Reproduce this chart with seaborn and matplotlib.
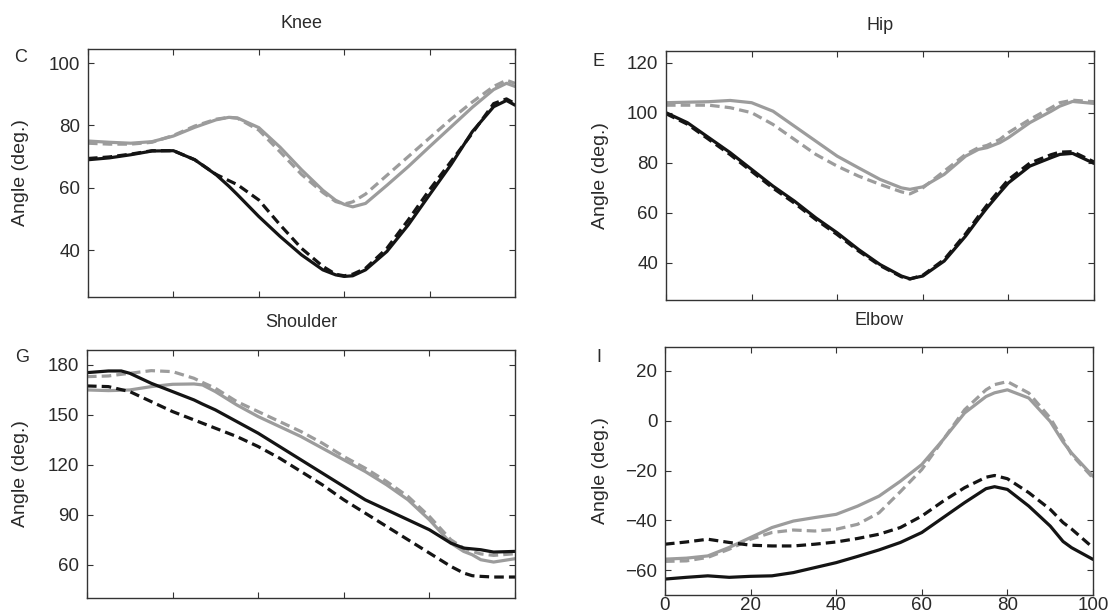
import matplotlib
matplotlib.use("Agg")
import matplotlib.pyplot as plt
import pandas as pd
import seaborn as sns

# Percent of the cycle at which each joint's curves are sampled
knee_pct = [0, 5, 10, 15, 20, 25, 30, 33, 35, 40, 45, 50, 55, 58, 60, 62, 65, 70, 75, 80, 85, 90, 95, 98, 100]
hip_pct = [0, 5, 10, 15, 20, 25, 30, 35, 40, 45, 50, 55, 57, 60, 65, 70, 73, 75, 78, 80, 85, 90, 92, 95, 100]
shoulder_pct = [0, 5, 8, 10, 15, 20, 25, 27, 30, 35, 40, 45, 50, 55, 60, 65, 70, 75, 80, 85, 88, 90, 92, 95, 100]
elbow_pct = [0, 5, 10, 15, 20, 25, 30, 35, 40, 45, 50, 55, 60, 65, 70, 75, 77, 80, 85, 90, 93, 95, 100]

# Knee angle (deg.)
knee_light_solid = [75.0, 74.6, 74.3, 74.8, 76.6, 79.4, 81.8, 82.6, 82.4, 79.3, 73.0, 65.8, 59.2, 56.0, 54.7, 53.9, 55.0, 60.8, 66.8, 73.2, 79.5, 85.8, 91.5, 93.5, 92.5]
knee_light_dashed = [74.3, 74.0, 74.0, 74.6, 76.8, 79.8, 82.0, 82.6, 82.3, 78.5, 71.5, 64.3, 58.5, 55.6, 54.8, 55.5, 58.0, 64.0, 70.0, 76.0, 82.0, 87.5, 92.5, 94.5, 93.5]
knee_dark_solid = [69.0, 69.6, 70.6, 71.8, 71.9, 69.0, 64.2, 60.5, 57.8, 50.8, 44.4, 38.5, 33.7, 32.1, 31.6, 31.8, 33.7, 39.6, 48.1, 57.8, 67.4, 78.0, 86.0, 88.0, 86.5]
knee_dark_dashed = [69.4, 69.9, 70.8, 71.9, 71.9, 69.0, 64.3, 62.3, 61.0, 56.1, 48.1, 40.6, 34.8, 32.3, 31.8, 32.3, 34.2, 40.6, 49.7, 59.4, 68.4, 77.5, 87.0, 88.5, 87.0]

# Hip angle (deg.)
hip_light_solid = [104.0, 104.2, 104.4, 104.9, 104.0, 100.6, 94.6, 88.6, 82.6, 77.9, 73.3, 69.9, 69.3, 70.3, 75.3, 82.6, 85.3, 86.0, 88.0, 90.0, 96.0, 100.6, 102.6, 104.5, 103.7]
hip_light_dashed = [103.0, 103.0, 103.0, 102.0, 100.0, 95.3, 89.3, 83.3, 78.6, 74.6, 71.3, 68.3, 67.5, 69.9, 76.6, 83.3, 86.0, 86.9, 89.3, 92.0, 97.3, 102.0, 104.0, 105.0, 104.4]
hip_dark_solid = [100.0, 96.0, 90.0, 84.0, 77.3, 70.6, 64.6, 57.9, 51.9, 45.2, 39.2, 34.6, 33.5, 34.6, 40.6, 50.6, 57.5, 61.9, 68.0, 71.9, 78.6, 82.0, 83.3, 83.7, 79.7]
hip_dark_dashed = [99.6, 95.4, 89.3, 83.2, 76.5, 69.8, 63.8, 57.2, 51.2, 44.6, 38.8, 34.3, 33.4, 34.9, 41.2, 51.5, 58.5, 63.0, 69.2, 73.2, 79.8, 83.2, 84.2, 84.4, 80.3]

# Shoulder angle (deg.)
shoulder_light_solid = [165.0, 164.6, 164.8, 165.0, 167.0, 168.4, 168.6, 168.0, 164.0, 156.0, 149.0, 143.0, 137.0, 130.0, 123.0, 116.0, 108.0, 99.0, 87.0, 73.0, 68.0, 66.0, 63.0, 61.6, 63.6]
shoulder_light_dashed = [173.0, 173.4, 174.4, 175.0, 176.6, 176.0, 172.0, 169.5, 166.0, 158.0, 152.0, 146.0, 140.0, 133.0, 125.0, 118.0, 110.0, 101.0, 89.0, 75.0, 70.0, 68.0, 66.5, 65.6, 66.6]
shoulder_dark_solid = [175.4, 176.4, 176.4, 175.0, 169.0, 164.0, 159.0, 156.5, 153.0, 146.0, 139.0, 131.0, 123.0, 115.0, 107.0, 99.0, 93.0, 87.0, 81.0, 73.0, 70.0, 69.5, 69.0, 67.6, 68.0]
shoulder_dark_dashed = [167.4, 167.0, 165.2, 164.0, 158.0, 152.0, 147.0, 145.0, 142.0, 137.0, 131.0, 124.0, 116.0, 108.0, 99.0, 91.0, 83.0, 75.0, 67.0, 59.0, 55.0, 53.4, 53.0, 52.6, 52.6]

# Elbow angle (deg.)
elbow_light_solid = [-55.6, -55.2, -54.3, -50.9, -46.9, -42.9, -40.3, -38.9, -37.6, -34.3, -30.3, -24.3, -17.6, -7.6, 3.1, 9.7, 11.2, 12.4, 9.1, -0.3, -8.5, -13.0, -22.3]
elbow_light_dashed = [-56.5, -56.3, -54.9, -51.6, -47.6, -44.9, -43.9, -44.3, -43.6, -41.6, -37.0, -28.5, -19.6, -7.6, 4.4, 12.4, 14.5, 15.7, 11.1, 1.1, -7.5, -13.6, -23.0]
elbow_dark_solid = [-63.6, -62.9, -62.3, -62.9, -62.5, -62.3, -61.0, -59.0, -57.0, -54.5, -51.9, -48.9, -44.9, -38.9, -32.9, -27.3, -26.5, -27.6, -34.3, -42.3, -48.5, -51.0, -55.7]
elbow_dark_dashed = [-49.6, -48.7, -47.6, -48.9, -50.0, -50.3, -50.3, -49.6, -48.7, -47.3, -45.6, -42.9, -38.3, -32.3, -26.9, -22.7, -22.0, -23.3, -28.9, -35.6, -40.9, -43.5, -51.0]

x_ticks = [0, 20, 40, 60, 80, 100]

panels = [
    dict(title="Knee", title_y=23, letter="C", letter_xy=(21, 57),
         ylim=(25, 104.5), yticks=[40, 60, 80, 100], rect=(88, 49, 427, 248),
         xlabels=False, pct=knee_pct,
         series={("light", "solid"): knee_light_solid, ("light", "dashed"): knee_light_dashed,
                 ("dark", "solid"): knee_dark_solid, ("dark", "dashed"): knee_dark_dashed}),
    dict(title="Hip", title_y=25, letter="E", letter_xy=(599, 61),
         ylim=(25, 124.7), yticks=[40, 60, 80, 100, 120], rect=(666, 51, 428, 249),
         xlabels=False, pct=hip_pct,
         series={("light", "solid"): hip_light_solid, ("light", "dashed"): hip_light_dashed,
                 ("dark", "solid"): hip_dark_solid, ("dark", "dashed"): hip_dark_dashed}),
    dict(title="Shoulder", title_y=323, letter="G", letter_xy=(22, 358),
         ylim=(40, 189), yticks=[60, 90, 120, 150, 180], rect=(87, 350, 428, 248),
         xlabels=False, pct=shoulder_pct,
         series={("light", "solid"): shoulder_light_solid, ("light", "dashed"): shoulder_light_dashed,
                 ("dark", "solid"): shoulder_dark_solid, ("dark", "dashed"): shoulder_dark_dashed}),
    dict(title="Elbow", title_y=320, letter="I", letter_xy=(599, 357),
         ylim=(-70, 29.6), yticks=[-60, -40, -20, 0, 20], rect=(665, 347, 428, 248),
         xlabels=True, pct=elbow_pct,
         series={("light", "solid"): elbow_light_solid, ("light", "dashed"): elbow_light_dashed,
                 ("dark", "solid"): elbow_dark_solid, ("dark", "dashed"): elbow_dark_dashed}),
]

sns.set_style("ticks")
plt.rcParams["font.family"] = ["Liberation Sans", "DejaVu Sans"]

W, H = 1110, 615
fig = plt.figure(figsize=(W / 100, H / 100), dpi=100)
text_color = "#2a2a2a"

palette = {"dark": "#141414", "light": "#9c9c9c"}
dash_map = {"solid": "", "dashed": (3.0, 1.6)}

for p in panels:
    left, top, w, h = p["rect"]
    ax = fig.add_axes([left / W, 1 - (top + h) / H, w / W, h / H])

    rows = []
    for (shade, line), vals in p["series"].items():
        for x, y in zip(p["pct"], vals):
            rows.append({"pct": x, "angle": y, "shade": shade, "line": line})
    df = pd.DataFrame(rows)

    sns.lineplot(data=df, x="pct", y="angle", hue="shade", style="line",
                 hue_order=["light", "dark"], style_order=["solid", "dashed"],
                 palette=palette, dashes=dash_map, linewidth=2.3,
                 estimator=None, sort=True, legend=False, ax=ax)

    ax.set_xlim(0, 100)
    ax.set_ylim(*p["ylim"])
    ax.set_xticks(x_ticks)
    ax.set_yticks(p["yticks"])
    if not p["xlabels"]:
        ax.set_xticklabels([])
    ax.set_xlabel("")
    ax.set_ylabel("Angle (deg.)", fontsize=14, color=text_color)
    label_right = 29 if left < W / 2 else 609
    ax.yaxis.set_label_coords((label_right - left) / w, 0.5)

    ax.tick_params(direction="in", top=True, right=True, length=4, width=0.8,
                   labelsize=13.5, colors="#333333", labelcolor=text_color)
    ax.tick_params(axis="y", pad=5.5)
    ax.tick_params(axis="x", pad=1.5)
    for side in ["left", "right", "top", "bottom"]:
        ax.spines[side].set_visible(True)
        ax.spines[side].set_color("#333333")
        ax.spines[side].set_linewidth(1.0)

    fig.text((left + w / 2) / W, 1 - p["title_y"] / H, p["title"], fontsize=13,
             color=text_color, ha="center", va="center")
    lx, ly = p["letter_xy"]
    fig.text(lx / W, 1 - ly / H, p["letter"], fontsize=13, color=text_color,
             ha="center", va="center")

fig.savefig("out.png", dpi=100)
